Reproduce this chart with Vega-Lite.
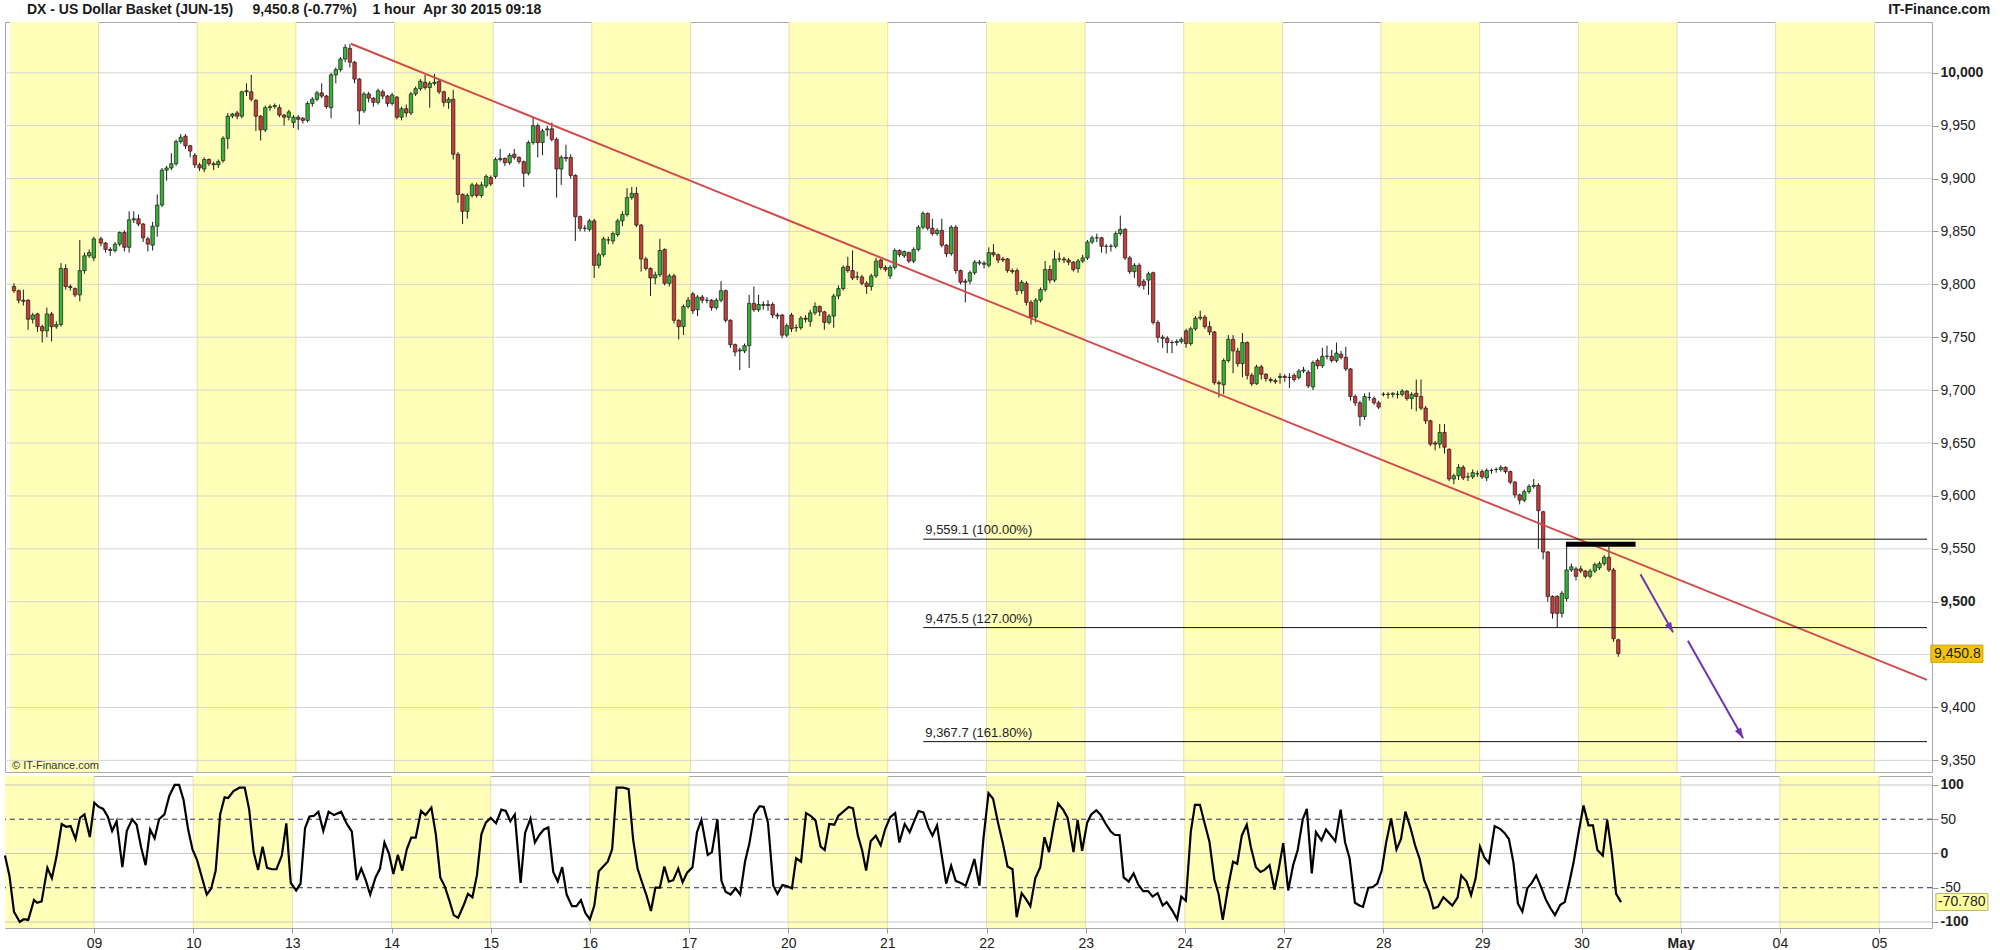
{
"$schema": "https://vega.github.io/schema/vega-lite/v6.json",
"padding": 0,
"background": "white",
"spacing": 2,
"config": {"view": {"stroke": "#a9a9a9", "strokeWidth": 1}, "font": "Liberation Sans", "axis": {"labelOverlap": false, "labelSeparation": 0}},
"datasets": {
"bands": [{"s":-0.8975,"e":0},{"s":1,"e":2},{"s":3,"e":4},{"s":5,"e":6},{"s":7,"e":8},{"s":9,"e":10},{"s":11,"e":12},{"s":13,"e":14},{"s":15,"e":16},{"s":17,"e":18}],
"days": [{"d":0},{"d":1},{"d":2},{"d":3},{"d":4},{"d":5},{"d":6},{"d":7},{"d":8},{"d":9},{"d":10},{"d":11},{"d":12},{"d":13},{"d":14},{"d":15},{"d":16},{"d":17},{"d":18}],
"hgrid": [{"v":9350},{"v":9400},{"v":9450},{"v":9500},{"v":9550},{"v":9600},{"v":9650},{"v":9700},{"v":9750},{"v":9800},{"v":9850},{"v":9900},{"v":9950},{"v":10000}],
"oscgrid": [{"v":-100},{"v":-50},{"v":0},{"v":50},{"v":100}],
"candles": [
{"d":-0.857,"o":9798,"h":9801,"l":9792,"c":9794},{"d":-0.809,"o":9794,"h":9795,"l":9782,"c":9785},{"d":-0.762,"o":9785,"h":9795,"l":9780,"c":9784},{"d":-0.714,"o":9785,"h":9786,"l":9757,"c":9767},{"d":-0.667,"o":9767,"h":9773,"l":9763,"c":9771},{"d":-0.619,"o":9772,"h":9773,"l":9755,"c":9760},{"d":-0.571,"o":9760,"h":9762,"l":9745,"c":9756},{"d":-0.524,"o":9756,"h":9778,"l":9750,"c":9772},{"d":-0.476,"o":9772,"h":9774,"l":9746,"c":9760},{"d":-0.428,"o":9760,"h":9765,"l":9758,"c":9762},{"d":-0.381,"o":9762,"h":9820,"l":9760,"c":9815},{"d":-0.333,"o":9815,"h":9819,"l":9795,"c":9798},{"d":-0.286,"o":9798,"h":9800,"l":9794,"c":9797},{"d":-0.238,"o":9796,"h":9797,"l":9788,"c":9790},{"d":-0.19,"o":9790,"h":9842,"l":9784,"c":9813},{"d":-0.143,"o":9813,"h":9830,"l":9810,"c":9827},{"d":-0.095,"o":9827,"h":9833,"l":9825,"c":9830},{"d":-0.048,"o":9825,"h":9845,"l":9822,"c":9843},
{"d":0.024,"o":9843,"h":9845,"l":9836,"c":9839},{"d":0.071,"o":9839,"h":9840,"l":9830,"c":9833},{"d":0.119,"o":9833,"h":9835,"l":9827,"c":9832},{"d":0.167,"o":9832,"h":9840,"l":9830,"c":9838},{"d":0.214,"o":9838,"h":9850,"l":9836,"c":9849},{"d":0.262,"o":9849,"h":9851,"l":9831,"c":9835},{"d":0.31,"o":9835,"h":9869,"l":9830,"c":9861},{"d":0.357,"o":9861,"h":9869,"l":9858,"c":9862},{"d":0.405,"o":9862,"h":9866,"l":9855,"c":9857},{"d":0.452,"o":9857,"h":9858,"l":9840,"c":9844},{"d":0.5,"o":9843,"h":9845,"l":9831,"c":9838},{"d":0.548,"o":9837,"h":9859,"l":9832,"c":9855},{"d":0.595,"o":9855,"h":9885,"l":9845,"c":9875},{"d":0.643,"o":9875,"h":9910,"l":9873,"c":9908},{"d":0.69,"o":9908,"h":9912,"l":9898,"c":9910},{"d":0.738,"o":9910,"h":9924,"l":9908,"c":9914},{"d":0.786,"o":9914,"h":9937,"l":9912,"c":9935},{"d":0.833,"o":9935,"h":9942,"l":9933,"c":9939},{"d":0.881,"o":9940,"h":9942,"l":9928,"c":9931},{"d":0.929,"o":9931,"h":9932,"l":9920,"c":9926},{"d":0.976,"o":9922,"h":9924,"l":9910,"c":9913},
{"d":1.024,"o":9913,"h":9915,"l":9907,"c":9910},{"d":1.071,"o":9909,"h":9920,"l":9906,"c":9918},{"d":1.119,"o":9918,"h":9919,"l":9912,"c":9914},{"d":1.167,"o":9914,"h":9916,"l":9908,"c":9913},{"d":1.214,"o":9913,"h":9918,"l":9910,"c":9916},{"d":1.262,"o":9917,"h":9940,"l":9915,"c":9938},{"d":1.31,"o":9938,"h":9962,"l":9928,"c":9959},{"d":1.357,"o":9959,"h":9962,"l":9957,"c":9961},{"d":1.405,"o":9962,"h":9964,"l":9956,"c":9959},{"d":1.452,"o":9959,"h":9983,"l":9957,"c":9982},{"d":1.5,"o":9982,"h":9990,"l":9978,"c":9983},{"d":1.548,"o":9982,"h":9998,"l":9973,"c":9975},{"d":1.595,"o":9974,"h":9975,"l":9945,"c":9959},{"d":1.643,"o":9959,"h":9960,"l":9936,"c":9946},{"d":1.69,"o":9946,"h":9969,"l":9944,"c":9967},{"d":1.738,"o":9967,"h":9970,"l":9964,"c":9968},{"d":1.786,"o":9968,"h":9971,"l":9966,"c":9969},{"d":1.833,"o":9967,"h":9970,"l":9958,"c":9960},{"d":1.881,"o":9960,"h":9961,"l":9950,"c":9958},{"d":1.929,"o":9958,"h":9965,"l":9955,"c":9963},{"d":1.976,"o":9953,"h":9960,"l":9948,"c":9958},
{"d":2.024,"o":9958,"h":9960,"l":9946,"c":9956},{"d":2.071,"o":9957,"h":9958,"l":9952,"c":9955},{"d":2.119,"o":9955,"h":9973,"l":9953,"c":9971},{"d":2.167,"o":9971,"h":9977,"l":9968,"c":9975},{"d":2.214,"o":9975,"h":9983,"l":9973,"c":9981},{"d":2.262,"o":9981,"h":9990,"l":9976,"c":9978},{"d":2.31,"o":9978,"h":9979,"l":9966,"c":9968},{"d":2.357,"o":9967,"h":10000,"l":9957,"c":9998},{"d":2.405,"o":9998,"h":10005,"l":9990,"c":10003},{"d":2.452,"o":10003,"h":10015,"l":10001,"c":10013},{"d":2.5,"o":10013,"h":10027,"l":10010,"c":10024},{"d":2.548,"o":10023,"h":10027,"l":10005,"c":10010},{"d":2.595,"o":10010,"h":10011,"l":9990,"c":9994},{"d":2.643,"o":9994,"h":9995,"l":9951,"c":9964},{"d":2.69,"o":9964,"h":9982,"l":9962,"c":9980},{"d":2.738,"o":9980,"h":9982,"l":9972,"c":9976},{"d":2.786,"o":9976,"h":9977,"l":9968,"c":9972},{"d":2.833,"o":9972,"h":9985,"l":9970,"c":9983},{"d":2.881,"o":9982,"h":9984,"l":9975,"c":9978},{"d":2.929,"o":9978,"h":9979,"l":9968,"c":9971},{"d":2.976,"o":9971,"h":9981,"l":9969,"c":9979},
{"d":3.024,"o":9977,"h":9978,"l":9956,"c":9958},{"d":3.071,"o":9958,"h":9968,"l":9955,"c":9966},{"d":3.119,"o":9966,"h":9970,"l":9958,"c":9962},{"d":3.167,"o":9962,"h":9982,"l":9960,"c":9980},{"d":3.214,"o":9980,"h":9987,"l":9978,"c":9985},{"d":3.262,"o":9985,"h":9994,"l":9983,"c":9992},{"d":3.31,"o":9991,"h":9998,"l":9984,"c":9986},{"d":3.357,"o":9986,"h":9992,"l":9967,"c":9990},{"d":3.405,"o":9990,"h":9999,"l":9988,"c":9991},{"d":3.452,"o":9992,"h":9993,"l":9980,"c":9982},{"d":3.5,"o":9982,"h":9983,"l":9968,"c":9972},{"d":3.548,"o":9972,"h":9977,"l":9966,"c":9975},{"d":3.595,"o":9975,"h":9984,"l":9918,"c":9923},{"d":3.643,"o":9923,"h":9925,"l":9877,"c":9885},{"d":3.69,"o":9885,"h":9886,"l":9857,"c":9869},{"d":3.738,"o":9869,"h":9886,"l":9862,"c":9884},{"d":3.786,"o":9884,"h":9896,"l":9882,"c":9894},{"d":3.833,"o":9894,"h":9896,"l":9882,"c":9884},{"d":3.881,"o":9884,"h":9897,"l":9882,"c":9894},{"d":3.929,"o":9893,"h":9904,"l":9891,"c":9902},{"d":3.976,"o":9901,"h":9903,"l":9893,"c":9895},
{"d":4.024,"o":9902,"h":9920,"l":9900,"c":9918},{"d":4.071,"o":9918,"h":9928,"l":9916,"c":9919},{"d":4.119,"o":9919,"h":9920,"l":9912,"c":9915},{"d":4.167,"o":9915,"h":9924,"l":9913,"c":9922},{"d":4.214,"o":9923,"h":9928,"l":9918,"c":9920},{"d":4.262,"o":9920,"h":9921,"l":9914,"c":9916},{"d":4.31,"o":9916,"h":9917,"l":9892,"c":9905},{"d":4.357,"o":9905,"h":9936,"l":9903,"c":9934},{"d":4.405,"o":9934,"h":9958,"l":9932,"c":9950},{"d":4.452,"o":9950,"h":9952,"l":9920,"c":9934},{"d":4.5,"o":9934,"h":9947,"l":9922,"c":9945},{"d":4.548,"o":9946,"h":9950,"l":9940,"c":9947},{"d":4.595,"o":9947,"h":9953,"l":9935,"c":9937},{"d":4.643,"o":9937,"h":9939,"l":9882,"c":9909},{"d":4.69,"o":9909,"h":9922,"l":9894,"c":9920},{"d":4.738,"o":9920,"h":9932,"l":9916,"c":9919},{"d":4.786,"o":9920,"h":9923,"l":9900,"c":9903},{"d":4.833,"o":9903,"h":9904,"l":9841,"c":9864},{"d":4.881,"o":9864,"h":9865,"l":9850,"c":9853},{"d":4.929,"o":9853,"h":9856,"l":9850,"c":9853},{"d":4.976,"o":9852,"h":9862,"l":9850,"c":9860},
{"d":5.024,"o":9860,"h":9862,"l":9806,"c":9818},{"d":5.071,"o":9818,"h":9830,"l":9815,"c":9828},{"d":5.119,"o":9828,"h":9845,"l":9826,"c":9843},{"d":5.167,"o":9842,"h":9845,"l":9838,"c":9842},{"d":5.214,"o":9841,"h":9850,"l":9838,"c":9848},{"d":5.262,"o":9847,"h":9862,"l":9845,"c":9860},{"d":5.31,"o":9860,"h":9869,"l":9855,"c":9866},{"d":5.357,"o":9866,"h":9891,"l":9864,"c":9882},{"d":5.405,"o":9882,"h":9892,"l":9880,"c":9886},{"d":5.452,"o":9886,"h":9892,"l":9854,"c":9856},{"d":5.5,"o":9856,"h":9857,"l":9812,"c":9824},{"d":5.548,"o":9824,"h":9826,"l":9813,"c":9815},{"d":5.595,"o":9815,"h":9816,"l":9789,"c":9806},{"d":5.643,"o":9806,"h":9812,"l":9800,"c":9809},{"d":5.69,"o":9809,"h":9843,"l":9807,"c":9832},{"d":5.738,"o":9833,"h":9834,"l":9799,"c":9801},{"d":5.786,"o":9801,"h":9810,"l":9798,"c":9808},{"d":5.833,"o":9808,"h":9810,"l":9763,"c":9766},{"d":5.881,"o":9766,"h":9767,"l":9748,"c":9760},{"d":5.929,"o":9760,"h":9781,"l":9752,"c":9779},{"d":5.976,"o":9779,"h":9788,"l":9777,"c":9785},
{"d":6.024,"o":9791,"h":9793,"l":9772,"c":9775},{"d":6.071,"o":9776,"h":9790,"l":9770,"c":9788},{"d":6.119,"o":9788,"h":9790,"l":9782,"c":9785},{"d":6.167,"o":9785,"h":9788,"l":9782,"c":9785},{"d":6.214,"o":9785,"h":9786,"l":9775,"c":9778},{"d":6.262,"o":9778,"h":9787,"l":9776,"c":9785},{"d":6.31,"o":9785,"h":9803,"l":9783,"c":9794},{"d":6.357,"o":9794,"h":9795,"l":9764,"c":9766},{"d":6.405,"o":9766,"h":9767,"l":9740,"c":9743},{"d":6.452,"o":9743,"h":9744,"l":9732,"c":9736},{"d":6.5,"o":9737,"h":9740,"l":9719,"c":9738},{"d":6.548,"o":9737,"h":9744,"l":9735,"c":9742},{"d":6.595,"o":9742,"h":9790,"l":9721,"c":9782},{"d":6.643,"o":9782,"h":9798,"l":9774,"c":9776},{"d":6.69,"o":9776,"h":9790,"l":9774,"c":9781},{"d":6.738,"o":9780,"h":9784,"l":9776,"c":9781},{"d":6.786,"o":9781,"h":9785,"l":9775,"c":9780},{"d":6.833,"o":9781,"h":9783,"l":9768,"c":9771},{"d":6.881,"o":9771,"h":9773,"l":9767,"c":9770},{"d":6.929,"o":9771,"h":9772,"l":9749,"c":9752},{"d":6.976,"o":9752,"h":9763,"l":9750,"c":9761},
{"d":7.024,"o":9771,"h":9773,"l":9755,"c":9758},{"d":7.071,"o":9759,"h":9762,"l":9755,"c":9759},{"d":7.119,"o":9759,"h":9770,"l":9757,"c":9768},{"d":7.167,"o":9768,"h":9771,"l":9764,"c":9767},{"d":7.214,"o":9765,"h":9776,"l":9760,"c":9773},{"d":7.262,"o":9773,"h":9783,"l":9771,"c":9779},{"d":7.31,"o":9779,"h":9780,"l":9770,"c":9774},{"d":7.357,"o":9774,"h":9775,"l":9757,"c":9764},{"d":7.405,"o":9764,"h":9772,"l":9762,"c":9770},{"d":7.452,"o":9770,"h":9791,"l":9759,"c":9789},{"d":7.5,"o":9789,"h":9799,"l":9786,"c":9796},{"d":7.548,"o":9796,"h":9818,"l":9794,"c":9816},{"d":7.595,"o":9817,"h":9826,"l":9811,"c":9813},{"d":7.643,"o":9813,"h":9832,"l":9804,"c":9806},{"d":7.69,"o":9807,"h":9812,"l":9804,"c":9807},{"d":7.738,"o":9807,"h":9809,"l":9799,"c":9801},{"d":7.786,"o":9801,"h":9803,"l":9791,"c":9798},{"d":7.833,"o":9798,"h":9810,"l":9794,"c":9808},{"d":7.881,"o":9808,"h":9825,"l":9806,"c":9822},{"d":7.929,"o":9823,"h":9824,"l":9814,"c":9816},{"d":7.976,"o":9816,"h":9818,"l":9812,"c":9814},
{"d":8.024,"o":9808,"h":9818,"l":9805,"c":9816},{"d":8.071,"o":9816,"h":9834,"l":9814,"c":9832},{"d":8.119,"o":9832,"h":9833,"l":9826,"c":9828},{"d":8.167,"o":9827,"h":9832,"l":9825,"c":9831},{"d":8.214,"o":9830,"h":9831,"l":9820,"c":9822},{"d":8.262,"o":9822,"h":9835,"l":9820,"c":9833},{"d":8.31,"o":9833,"h":9856,"l":9831,"c":9854},{"d":8.357,"o":9854,"h":9869,"l":9852,"c":9867},{"d":8.405,"o":9867,"h":9868,"l":9851,"c":9853},{"d":8.452,"o":9853,"h":9862,"l":9846,"c":9848},{"d":8.5,"o":9848,"h":9853,"l":9846,"c":9851},{"d":8.548,"o":9851,"h":9862,"l":9835,"c":9837},{"d":8.595,"o":9837,"h":9838,"l":9826,"c":9829},{"d":8.643,"o":9829,"h":9856,"l":9827,"c":9854},{"d":8.69,"o":9854,"h":9856,"l":9810,"c":9813},{"d":8.738,"o":9813,"h":9814,"l":9800,"c":9802},{"d":8.786,"o":9803,"h":9805,"l":9783,"c":9802},{"d":8.833,"o":9803,"h":9813,"l":9800,"c":9811},{"d":8.881,"o":9811,"h":9823,"l":9809,"c":9821},{"d":8.929,"o":9820,"h":9823,"l":9818,"c":9821},{"d":8.976,"o":9820,"h":9822,"l":9815,"c":9819},
{"d":9.024,"o":9818,"h":9835,"l":9816,"c":9830},{"d":9.071,"o":9830,"h":9838,"l":9826,"c":9828},{"d":9.119,"o":9828,"h":9829,"l":9820,"c":9823},{"d":9.167,"o":9824,"h":9826,"l":9821,"c":9823},{"d":9.214,"o":9824,"h":9825,"l":9811,"c":9813},{"d":9.262,"o":9813,"h":9815,"l":9810,"c":9812},{"d":9.31,"o":9813,"h":9815,"l":9790,"c":9794},{"d":9.357,"o":9794,"h":9804,"l":9791,"c":9802},{"d":9.405,"o":9801,"h":9803,"l":9780,"c":9783},{"d":9.452,"o":9783,"h":9785,"l":9762,"c":9769},{"d":9.5,"o":9769,"h":9787,"l":9764,"c":9785},{"d":9.548,"o":9785,"h":9797,"l":9783,"c":9795},{"d":9.595,"o":9795,"h":9822,"l":9793,"c":9814},{"d":9.643,"o":9814,"h":9818,"l":9801,"c":9804},{"d":9.69,"o":9804,"h":9832,"l":9802,"c":9824},{"d":9.738,"o":9824,"h":9830,"l":9821,"c":9824},{"d":9.786,"o":9824,"h":9826,"l":9820,"c":9823},{"d":9.833,"o":9823,"h":9825,"l":9818,"c":9821},{"d":9.881,"o":9821,"h":9822,"l":9812,"c":9814},{"d":9.929,"o":9815,"h":9824,"l":9811,"c":9822},{"d":9.976,"o":9822,"h":9828,"l":9820,"c":9825},
{"d":10.024,"o":9825,"h":9842,"l":9823,"c":9840},{"d":10.071,"o":9840,"h":9846,"l":9838,"c":9844},{"d":10.119,"o":9844,"h":9848,"l":9840,"c":9844},{"d":10.167,"o":9844,"h":9845,"l":9830,"c":9836},{"d":10.214,"o":9836,"h":9838,"l":9829,"c":9836},{"d":10.262,"o":9836,"h":9838,"l":9831,"c":9836},{"d":10.31,"o":9836,"h":9850,"l":9834,"c":9848},{"d":10.357,"o":9848,"h":9865,"l":9846,"c":9852},{"d":10.405,"o":9852,"h":9853,"l":9823,"c":9825},{"d":10.452,"o":9825,"h":9827,"l":9810,"c":9812},{"d":10.5,"o":9812,"h":9820,"l":9806,"c":9818},{"d":10.548,"o":9818,"h":9820,"l":9797,"c":9799},{"d":10.595,"o":9803,"h":9805,"l":9795,"c":9799},{"d":10.643,"o":9804,"h":9812,"l":9790,"c":9810},{"d":10.69,"o":9811,"h":9812,"l":9762,"c":9764},{"d":10.738,"o":9764,"h":9766,"l":9745,"c":9750},{"d":10.786,"o":9750,"h":9752,"l":9740,"c":9749},{"d":10.833,"o":9749,"h":9751,"l":9735,"c":9745},{"d":10.881,"o":9745,"h":9747,"l":9735,"c":9745},{"d":10.929,"o":9745,"h":9748,"l":9742,"c":9746},{"d":10.976,"o":9746,"h":9750,"l":9744,"c":9748},
{"d":11.024,"o":9756,"h":9758,"l":9740,"c":9744},{"d":11.071,"o":9744,"h":9760,"l":9742,"c":9758},{"d":11.119,"o":9758,"h":9770,"l":9756,"c":9768},{"d":11.167,"o":9768,"h":9775,"l":9766,"c":9769},{"d":11.214,"o":9769,"h":9771,"l":9758,"c":9760},{"d":11.262,"o":9760,"h":9765,"l":9752,"c":9755},{"d":11.31,"o":9755,"h":9756,"l":9705,"c":9707},{"d":11.357,"o":9707,"h":9709,"l":9693,"c":9706},{"d":11.405,"o":9705,"h":9730,"l":9696,"c":9728},{"d":11.452,"o":9728,"h":9752,"l":9726,"c":9748},{"d":11.5,"o":9748,"h":9752,"l":9716,"c":9737},{"d":11.548,"o":9737,"h":9740,"l":9722,"c":9725},{"d":11.595,"o":9725,"h":9754,"l":9712,"c":9745},{"d":11.643,"o":9745,"h":9746,"l":9710,"c":9714},{"d":11.69,"o":9714,"h":9716,"l":9704,"c":9706},{"d":11.738,"o":9706,"h":9724,"l":9705,"c":9722},{"d":11.786,"o":9722,"h":9724,"l":9710,"c":9715},{"d":11.833,"o":9715,"h":9716,"l":9708,"c":9711},{"d":11.881,"o":9710,"h":9712,"l":9707,"c":9709},{"d":11.929,"o":9709,"h":9711,"l":9706,"c":9708},{"d":11.976,"o":9712,"h":9716,"l":9706,"c":9713},
{"d":12.024,"o":9713,"h":9715,"l":9708,"c":9712},{"d":12.071,"o":9712,"h":9716,"l":9702,"c":9712},{"d":12.119,"o":9714,"h":9716,"l":9708,"c":9710},{"d":12.167,"o":9712,"h":9720,"l":9710,"c":9718},{"d":12.214,"o":9718,"h":9722,"l":9716,"c":9719},{"d":12.262,"o":9717,"h":9719,"l":9702,"c":9704},{"d":12.31,"o":9703,"h":9728,"l":9700,"c":9726},{"d":12.357,"o":9728,"h":9730,"l":9720,"c":9723},{"d":12.405,"o":9723,"h":9740,"l":9721,"c":9732},{"d":12.452,"o":9732,"h":9742,"l":9729,"c":9732},{"d":12.5,"o":9732,"h":9738,"l":9726,"c":9728},{"d":12.548,"o":9728,"h":9745,"l":9726,"c":9735},{"d":12.595,"o":9734,"h":9737,"l":9729,"c":9731},{"d":12.643,"o":9731,"h":9741,"l":9718,"c":9720},{"d":12.69,"o":9720,"h":9721,"l":9690,"c":9694},{"d":12.738,"o":9694,"h":9696,"l":9685,"c":9688},{"d":12.786,"o":9688,"h":9690,"l":9666,"c":9675},{"d":12.833,"o":9675,"h":9697,"l":9672,"c":9694},{"d":12.881,"o":9693,"h":9698,"l":9690,"c":9693},{"d":12.929,"o":9692,"h":9694,"l":9686,"c":9688},{"d":12.976,"o":9688,"h":9690,"l":9682,"c":9684},
{"d":13.024,"o":9696,"h":9698,"l":9694,"c":9696},{"d":13.071,"o":9696,"h":9698,"l":9692,"c":9696},{"d":13.119,"o":9696,"h":9698,"l":9693,"c":9697},{"d":13.167,"o":9696,"h":9699,"l":9692,"c":9696},{"d":13.214,"o":9696,"h":9701,"l":9694,"c":9699},{"d":13.262,"o":9699,"h":9700,"l":9690,"c":9692},{"d":13.31,"o":9692,"h":9698,"l":9682,"c":9696},{"d":13.357,"o":9697,"h":9710,"l":9680,"c":9694},{"d":13.405,"o":9694,"h":9710,"l":9681,"c":9683},{"d":13.452,"o":9683,"h":9685,"l":9668,"c":9671},{"d":13.5,"o":9671,"h":9672,"l":9647,"c":9649},{"d":13.548,"o":9650,"h":9652,"l":9643,"c":9649},{"d":13.595,"o":9649,"h":9668,"l":9645,"c":9660},{"d":13.643,"o":9660,"h":9668,"l":9640,"c":9646},{"d":13.69,"o":9644,"h":9645,"l":9614,"c":9616},{"d":13.738,"o":9616,"h":9621,"l":9611,"c":9619},{"d":13.786,"o":9619,"h":9630,"l":9615,"c":9627},{"d":13.833,"o":9627,"h":9629,"l":9615,"c":9617},{"d":13.881,"o":9618,"h":9622,"l":9614,"c":9618},{"d":13.929,"o":9618,"h":9625,"l":9616,"c":9622},{"d":13.976,"o":9621,"h":9624,"l":9618,"c":9621},
{"d":14.024,"o":9623,"h":9625,"l":9616,"c":9618},{"d":14.071,"o":9617,"h":9626,"l":9614,"c":9624},{"d":14.119,"o":9624,"h":9626,"l":9621,"c":9624},{"d":14.167,"o":9625,"h":9627,"l":9622,"c":9625},{"d":14.214,"o":9625,"h":9629,"l":9623,"c":9627},{"d":14.262,"o":9627,"h":9628,"l":9621,"c":9623},{"d":14.31,"o":9623,"h":9624,"l":9611,"c":9613},{"d":14.357,"o":9613,"h":9614,"l":9598,"c":9601},{"d":14.405,"o":9601,"h":9602,"l":9592,"c":9596},{"d":14.452,"o":9596,"h":9606,"l":9594,"c":9604},{"d":14.5,"o":9604,"h":9611,"l":9602,"c":9609},{"d":14.548,"o":9609,"h":9616,"l":9607,"c":9610},{"d":14.595,"o":9610,"h":9612,"l":9550,"c":9586},{"d":14.643,"o":9585,"h":9586,"l":9540,"c":9547},{"d":14.69,"o":9547,"h":9548,"l":9500,"c":9505},{"d":14.738,"o":9505,"h":9506,"l":9484,"c":9489},{"d":14.786,"o":9505,"h":9506,"l":9476,"c":9489},{"d":14.833,"o":9489,"h":9510,"l":9485,"c":9508},{"d":14.881,"o":9503,"h":9556,"l":9500,"c":9530},{"d":14.929,"o":9530,"h":9536,"l":9528,"c":9533},{"d":14.976,"o":9531,"h":9533,"l":9520,"c":9524},
{"d":15.024,"o":9531,"h":9534,"l":9527,"c":9529},{"d":15.071,"o":9529,"h":9530,"l":9522,"c":9524},{"d":15.119,"o":9524,"h":9531,"l":9522,"c":9529},{"d":15.167,"o":9529,"h":9537,"l":9527,"c":9535},{"d":15.214,"o":9532,"h":9538,"l":9530,"c":9536},{"d":15.262,"o":9536,"h":9544,"l":9534,"c":9542},{"d":15.31,"o":9542,"h":9552,"l":9528,"c":9530},{"d":15.357,"o":9530,"h":9532,"l":9462,"c":9465},{"d":15.405,"o":9464,"h":9465,"l":9448,"c":9451}
],
"osc": [
{"d":-0.898,"k":-3},{"d":-0.853,"k":-32},{"d":-0.807,"k":-85},{"d":-0.749,"k":-100},{"d":-0.708,"k":-96},{"d":-0.663,"k":-97},{"d":-0.605,"k":-68},{"d":-0.573,"k":-72},{"d":-0.528,"k":-70},{"d":-0.47,"k":-21},{"d":-0.425,"k":-36},{"d":-0.38,"k":-6},{"d":-0.326,"k":43},{"d":-0.281,"k":39},{"d":-0.236,"k":40},{"d":-0.186,"k":21},{"d":-0.141,"k":52},{"d":-0.096,"k":57},{"d":-0.042,"k":24},{"d":0.003,"k":74},{"d":0.048,"k":68},{"d":0.093,"k":65},{"d":0.138,"k":54},{"d":0.183,"k":33},{"d":0.228,"k":47},{"d":0.286,"k":-20},{"d":0.331,"k":33},{"d":0.385,"k":50},{"d":0.43,"k":42},{"d":0.475,"k":9},{"d":0.52,"k":-17},{"d":0.566,"k":35},{"d":0.611,"k":22},{"d":0.656,"k":50},{"d":0.71,"k":57},{"d":0.759,"k":84},{"d":0.813,"k":100},{"d":0.858,"k":100},{"d":0.903,"k":78},{"d":0.948,"k":36},{"d":0.993,"k":6},{"d":1.038,"k":-9},{"d":1.092,"k":-37},{"d":1.137,"k":-60},{"d":1.182,"k":-51},{"d":1.227,"k":-25},{"d":1.272,"k":57},{"d":1.317,"k":82},{"d":1.353,"k":81},{"d":1.407,"k":91},{"d":1.466,"k":96},{"d":1.52,"k":96},{"d":1.565,"k":64},{"d":1.61,"k":2},{"d":1.655,"k":-24},{"d":1.7,"k":10},{"d":1.745,"k":-21},{"d":1.794,"k":-23},{"d":1.84,"k":-23},{"d":1.894,"k":-3},{"d":1.939,"k":44},{"d":1.984,"k":-43},{"d":2.038,"k":-54},{"d":2.083,"k":-44},{"d":2.128,"k":37},{"d":2.173,"k":54},{"d":2.218,"k":55},{"d":2.263,"k":61},{"d":2.312,"k":33},{"d":2.366,"k":61},{"d":2.42,"k":56},{"d":2.492,"k":61},{"d":2.546,"k":44},{"d":2.6,"k":32},{"d":2.65,"k":-39},{"d":2.695,"k":-22},{"d":2.74,"k":-39},{"d":2.785,"k":-60},{"d":2.839,"k":-35},{"d":2.884,"k":-22},{"d":2.929,"k":16},{"d":2.974,"k":0},{"d":3.019,"k":-30},{"d":3.064,"k":-2},{"d":3.109,"k":-25},{"d":3.154,"k":6},{"d":3.199,"k":23},{"d":3.244,"k":23},{"d":3.298,"k":62},{"d":3.343,"k":56},{"d":3.402,"k":67},{"d":3.447,"k":28},{"d":3.492,"k":-35},{"d":3.537,"k":-48},{"d":3.582,"k":-68},{"d":3.627,"k":-90},{"d":3.672,"k":-94},{"d":3.726,"k":-76},{"d":3.771,"k":-59},{"d":3.816,"k":-64},{"d":3.861,"k":-32},{"d":3.906,"k":28},{"d":3.951,"k":45},{"d":4.0,"k":52},{"d":4.054,"k":44},{"d":4.108,"k":64},{"d":4.153,"k":62},{"d":4.198,"k":47},{"d":4.243,"k":57},{"d":4.302,"k":-43},{"d":4.347,"k":30},{"d":4.401,"k":51},{"d":4.446,"k":16},{"d":4.491,"k":27},{"d":4.536,"k":35},{"d":4.581,"k":38},{"d":4.631,"k":-27},{"d":4.676,"k":-41},{"d":4.721,"k":-20},{"d":4.766,"k":-60},{"d":4.82,"k":-77},{"d":4.865,"k":-77},{"d":4.91,"k":-68},{"d":4.955,"k":-87},{"d":5.0,"k":-96},{"d":5.045,"k":-76},{"d":5.09,"k":-26},{"d":5.135,"k":-19},{"d":5.18,"k":-12},{"d":5.225,"k":6},{"d":5.27,"k":96},{"d":5.337,"k":96},{"d":5.391,"k":94},{"d":5.436,"k":21},{"d":5.481,"k":-22},{"d":5.526,"k":-42},{"d":5.571,"k":-61},{"d":5.616,"k":-84},{"d":5.661,"k":-50},{"d":5.706,"k":-50},{"d":5.751,"k":-19},{"d":5.796,"k":-41},{"d":5.841,"k":-39},{"d":5.891,"k":-22},{"d":5.936,"k":-42},{"d":5.981,"k":-28},{"d":6.035,"k":-20},{"d":6.08,"k":31},{"d":6.125,"k":49},{"d":6.189,"k":-2},{"d":6.231,"k":2},{"d":6.286,"k":50},{"d":6.327,"k":-40},{"d":6.369,"k":-56},{"d":6.419,"k":-60},{"d":6.47,"k":-51},{"d":6.516,"k":-60},{"d":6.566,"k":-11},{"d":6.608,"k":14},{"d":6.658,"k":57},{"d":6.712,"k":69},{"d":6.754,"k":68},{"d":6.796,"k":45},{"d":6.85,"k":-47},{"d":6.892,"k":-59},{"d":6.942,"k":-46},{"d":6.992,"k":-48},{"d":7.038,"k":-51},{"d":7.08,"k":-7},{"d":7.13,"k":-12},{"d":7.18,"k":59},{"d":7.226,"k":55},{"d":7.276,"k":48},{"d":7.327,"k":10},{"d":7.368,"k":5},{"d":7.414,"k":43},{"d":7.465,"k":42},{"d":7.506,"k":55},{"d":7.556,"k":61},{"d":7.611,"k":68},{"d":7.653,"k":66},{"d":7.703,"k":26},{"d":7.745,"k":5},{"d":7.786,"k":-25},{"d":7.832,"k":18},{"d":7.883,"k":26},{"d":7.933,"k":12},{"d":7.979,"k":36},{"d":8.029,"k":53},{"d":8.079,"k":59},{"d":8.121,"k":16},{"d":8.175,"k":43},{"d":8.225,"k":31},{"d":8.267,"k":46},{"d":8.313,"k":62},{"d":8.363,"k":60},{"d":8.414,"k":38},{"d":8.455,"k":26},{"d":8.501,"k":41},{"d":8.552,"k":-6},{"d":8.593,"k":-44},{"d":8.643,"k":-18},{"d":8.689,"k":-40},{"d":8.74,"k":-43},{"d":8.79,"k":-47},{"d":8.836,"k":-28},{"d":8.878,"k":-8},{"d":8.928,"k":-47},{"d":8.97,"k":23},{"d":9.02,"k":88},{"d":9.066,"k":80},{"d":9.116,"k":45},{"d":9.166,"k":14},{"d":9.212,"k":-19},{"d":9.262,"k":-23},{"d":9.304,"k":-93},{"d":9.354,"k":-58},{"d":9.4,"k":-67},{"d":9.442,"k":-77},{"d":9.492,"k":-36},{"d":9.542,"k":-20},{"d":9.584,"k":24},{"d":9.63,"k":2},{"d":9.68,"k":43},{"d":9.722,"k":73},{"d":9.772,"k":64},{"d":9.818,"k":52},{"d":9.877,"k":2},{"d":9.919,"k":49},{"d":9.964,"k":4},{"d":10.015,"k":45},{"d":10.056,"k":57},{"d":10.107,"k":63},{"d":10.153,"k":56},{"d":10.203,"k":43},{"d":10.253,"k":32},{"d":10.295,"k":27},{"d":10.341,"k":27},{"d":10.383,"k":-35},{"d":10.433,"k":-41},{"d":10.483,"k":-29},{"d":10.529,"k":-45},{"d":10.579,"k":-55},{"d":10.629,"k":-55},{"d":10.675,"k":-63},{"d":10.725,"k":-58},{"d":10.776,"k":-76},{"d":10.817,"k":-71},{"d":10.872,"k":-83},{"d":10.922,"k":-96},{"d":10.964,"k":-63},{"d":11.01,"k":-69},{"d":11.06,"k":32},{"d":11.102,"k":71},{"d":11.152,"k":71},{"d":11.198,"k":45},{"d":11.248,"k":17},{"d":11.298,"k":-38},{"d":11.34,"k":-59},{"d":11.382,"k":-97},{"d":11.436,"k":-49},{"d":11.486,"k":-12},{"d":11.528,"k":-15},{"d":11.574,"k":26},{"d":11.624,"k":42},{"d":11.666,"k":9},{"d":11.716,"k":-20},{"d":11.762,"k":-27},{"d":11.804,"k":-24},{"d":11.854,"k":-17},{"d":11.904,"k":-53},{"d":11.946,"k":-23},{"d":11.992,"k":15},{"d":12.042,"k":-54},{"d":12.092,"k":-17},{"d":12.138,"k":5},{"d":12.189,"k":50},{"d":12.23,"k":65},{"d":12.28,"k":-29},{"d":12.322,"k":31},{"d":12.378,"k":19},{"d":12.423,"k":35},{"d":12.468,"k":27},{"d":12.517,"k":18},{"d":12.571,"k":64},{"d":12.616,"k":16},{"d":12.661,"k":-7},{"d":12.715,"k":-72},{"d":12.76,"k":-76},{"d":12.796,"k":-78},{"d":12.85,"k":-50},{"d":12.895,"k":-49},{"d":12.94,"k":-44},{"d":12.985,"k":-25},{"d":13.03,"k":16},{"d":13.08,"k":51},{"d":13.134,"k":6},{"d":13.179,"k":21},{"d":13.224,"k":61},{"d":13.278,"k":36},{"d":13.323,"k":11},{"d":13.368,"k":-8},{"d":13.413,"k":-39},{"d":13.462,"k":-56},{"d":13.507,"k":-80},{"d":13.552,"k":-78},{"d":13.607,"k":-64},{"d":13.652,"k":-70},{"d":13.697,"k":-76},{"d":13.751,"k":-64},{"d":13.787,"k":-32},{"d":13.841,"k":-41},{"d":13.886,"k":-61},{"d":13.931,"k":-37},{"d":13.976,"k":10},{"d":14.021,"k":-6},{"d":14.066,"k":-14},{"d":14.124,"k":40},{"d":14.178,"k":36},{"d":14.223,"k":30},{"d":14.268,"k":21},{"d":14.313,"k":-13},{"d":14.358,"k":-73},{"d":14.403,"k":-85},{"d":14.453,"k":-51},{"d":14.498,"k":-43},{"d":14.543,"k":-32},{"d":14.597,"k":-51},{"d":14.642,"k":-68},{"d":14.687,"k":-80},{"d":14.732,"k":-90},{"d":14.786,"k":-75},{"d":14.831,"k":-71},{"d":14.876,"k":-43},{"d":14.921,"k":-12},{"d":14.966,"k":27},{"d":15.02,"k":70},{"d":15.07,"k":41},{"d":15.115,"k":41},{"d":15.16,"k":5},{"d":15.214,"k":-3},{"d":15.259,"k":49},{"d":15.304,"k":2},{"d":15.349,"k":-59},{"d":15.398,"k":-71}
]
},
"vconcat": [
{
"width": 1927, "height": 19,
"view": {"stroke": null},
"layer": [
{"data": {"values": [{"d": -0.676, "t": "DX - US Dollar Basket (JUN-15)\u00a0\u00a0\u00a0\u00a0\u00a09,450.8 (-0.77%)\u00a0\u00a0\u00a0\u00a01 hour\u00a0\u00a0Apr 30 2015 09:18"}]},
 "mark": {"type": "text", "align": "left", "baseline": "middle", "fontSize": 14, "fontWeight": "bold", "color": "#1a1a1a"},
 "encoding": {"x": {"field": "d", "type": "quantitative", "scale": {"domain": [-0.8975, 18.534], "nice": false, "zero": false}, "axis": null}, "text": {"field": "t"}}},
{"data": {"values": [{"d": 19.12, "t": "IT-Finance.com"}]},
 "mark": {"type": "text", "align": "right", "baseline": "middle", "fontSize": 14, "fontWeight": "bold", "color": "#1a1a1a"},
 "encoding": {"x": {"field": "d", "type": "quantitative", "scale": {"domain": [-0.8975, 18.534], "nice": false, "zero": false}, "axis": null}, "text": {"field": "t"}}}
]
},
{
"width": 1927, "height": 750,
"layer": [
{"data": {"name": "bands"}, "mark": {"type": "rect", "color": "#ffffb9"},
 "encoding": {"x": {"field": "s", "type": "quantitative", "scale": {"domain": [-0.8975, 18.534], "nice": false, "zero": false}, "axis": null}, "x2": {"field": "e"}}},
{"data": {"name": "days"}, "mark": {"type": "rule", "color": "#e2e2b0", "strokeWidth": 1},
 "encoding": {"x": {"field": "d", "type": "quantitative", "scale": {"domain": [-0.8975, 18.534], "nice": false, "zero": false}, "axis": null}}},
{"data": {"name": "hgrid"}, "mark": {"type": "rule", "color": "#d6d6d0", "strokeWidth": 1},
 "encoding": {"y": {"field": "v", "type": "quantitative", "scale": {"domain": [9339, 10048], "nice": false, "zero": false},
        "axis": {"orient": "right", "title": null, "values": [9350, 9400, 9500, 9550, 9600, 9650, 9700, 9750, 9800, 9850, 9900, 9950, 10000], "labelExpr": "format(datum.value, ',')", "grid": false, "domain": false, "ticks": true, "labels": true, "labelOverlap": false, "tickSize": 6, "tickColor": "#999999", "labelPadding": 2, "labelFontSize": 14, "labelColor": "#222222", "labelFont": "Liberation Sans",
                 "labelFontWeight": {"condition": {"test": "datum.value == 10000 || datum.value == 9500", "value": "bold"}, "value": "normal"}}}}},
{"data": {"name": "candles"}, "mark": {"type": "rule", "color": "#1a1a1a", "strokeWidth": 1},
 "encoding": {
  "x": {"field": "d", "type": "quantitative", "scale": {"domain": [-0.8975, 18.534], "nice": false, "zero": false}, "axis": null},
  "y": {"field": "l", "type": "quantitative", "scale": {"domain": [9339, 10048], "nice": false, "zero": false}},
  "y2": {"field": "h"}}},
{"data": {"name": "candles"}, "mark": {"type": "bar", "orient": "vertical", "size": 3.4, "stroke": "#1a1a1a", "strokeWidth": 0.7},
 "encoding": {
  "x": {"field": "d", "type": "quantitative", "scale": {"domain": [-0.8975, 18.534], "nice": false, "zero": false}, "axis": null},
  "y": {"field": "o", "type": "quantitative", "scale": {"domain": [9339, 10048], "nice": false, "zero": false}},
  "y2": {"field": "c"},
  "color": {"condition": {"test": "datum.c >= datum.o", "value": "#35b335"}, "value": "#c93a3a"}}},
{"data": {"values": [{"x1": 2.558, "y1": 10027.4, "x2": 18.534, "y2": 9426.1}]}, "mark": {"type": "rule", "color": "#d24a4a", "strokeWidth": 2},
 "encoding": {
  "x": {"field": "x1", "type": "quantitative", "scale": {"domain": [-0.8975, 18.534], "nice": false, "zero": false}, "axis": null}, "x2": {"field": "x2"},
  "y": {"field": "y1", "type": "quantitative", "scale": {"domain": [9339, 10048], "nice": false, "zero": false}}, "y2": {"field": "y2"}}},
{"data": {"values": [{"x1": 8.36, "x2": 18.534, "v": 9559.1, "t": "9,559.1 (100.00%)"}, {"x1": 8.36, "x2": 18.534, "v": 9475.5, "t": "9,475.5 (127.00%)"}, {"x1": 8.36, "x2": 18.534, "v": 9367.7, "t": "9,367.7 (161.80%)"}]},
 "layer": [
  {"mark": {"type": "rule", "color": "#111111", "strokeWidth": 1},
   "encoding": {"x": {"field": "x1", "type": "quantitative", "scale": {"domain": [-0.8975, 18.534], "nice": false, "zero": false}, "axis": null}, "x2": {"field": "x2"},
                "y": {"field": "v", "type": "quantitative", "scale": {"domain": [9339, 10048], "nice": false, "zero": false}}}},
  {"mark": {"type": "text", "align": "left", "baseline": "bottom", "dx": 2, "dy": -2, "fontSize": 13, "color": "#222222"},
   "encoding": {"x": {"field": "x1", "type": "quantitative", "scale": {"domain": [-0.8975, 18.534], "nice": false, "zero": false}, "axis": null},
                "y": {"field": "v", "type": "quantitative", "scale": {"domain": [9339, 10048], "nice": false, "zero": false}}, "text": {"field": "t"}}}
 ]},
{"data": {"values": [{"x1": 14.874, "x2": 15.58, "v": 9554.3}]}, "mark": {"type": "rule", "color": "#000000", "strokeWidth": 5},
 "encoding": {"x": {"field": "x1", "type": "quantitative", "scale": {"domain": [-0.8975, 18.534], "nice": false, "zero": false}, "axis": null}, "x2": {"field": "x2"},
              "y": {"field": "v", "type": "quantitative", "scale": {"domain": [9339, 10048], "nice": false, "zero": false}}}},
{"data": {"values": [{"x1": 15.63, "y1": 9526, "x2": 15.96, "y2": 9471}, {"x1": 16.11, "y1": 9463, "x2": 16.67, "y2": 9371}]},
 "layer": [
  {"mark": {"type": "rule", "color": "#7232b4", "strokeWidth": 2},
   "encoding": {"x": {"field": "x1", "type": "quantitative", "scale": {"domain": [-0.8975, 18.534], "nice": false, "zero": false}, "axis": null}, "x2": {"field": "x2"},
                "y": {"field": "y1", "type": "quantitative", "scale": {"domain": [9339, 10048], "nice": false, "zero": false}}, "y2": {"field": "y2"}}},
  {"mark": {"type": "point", "shape": "M0,0L-0.6,-1.7L0.6,-1.7Z", "filled": true, "color": "#7232b4", "opacity": 1, "size": 144, "angle": 330},
   "encoding": {"x": {"field": "x2", "type": "quantitative", "scale": {"domain": [-0.8975, 18.534], "nice": false, "zero": false}, "axis": null},
                "y": {"field": "y2", "type": "quantitative", "scale": {"domain": [9339, 10048], "nice": false, "zero": false}}}}
 ]},
{"data": {"values": [{"p": 18.534, "v": 9450.8, "t": "9,450.8"}]},
 "layer": [
  {"mark": {"type": "point", "shape": "M0.15,-0.33H2.15V0.33H0.15Z", "filled": true, "fill": "#f4c20d", "stroke": "#c9a000", "strokeWidth": 1, "opacity": 1, "size": 2704},
   "encoding": {"x": {"field": "p", "type": "quantitative", "scale": {"domain": [-0.8975, 18.534], "nice": false, "zero": false}, "axis": null},
                "y": {"field": "v", "type": "quantitative", "scale": {"domain": [9339, 10048], "nice": false, "zero": false}}}},
  {"mark": {"type": "text", "align": "left", "baseline": "middle", "dx": 7, "fontSize": 14, "color": "#222222"},
   "encoding": {"x": {"field": "p", "type": "quantitative", "scale": {"domain": [-0.8975, 18.534], "nice": false, "zero": false}, "axis": null},
                "y": {"field": "v", "type": "quantitative", "scale": {"domain": [9339, 10048], "nice": false, "zero": false}}, "text": {"field": "t"}}}
 ]},
{"data": {"values": [{"p": -0.877, "v": 9339, "t": "© IT-Finance.com"}]},
 "mark": {"type": "text", "align": "left", "baseline": "bottom", "dy": -1, "fontSize": 11, "color": "#333333"},
 "encoding": {"x": {"field": "p", "type": "quantitative", "scale": {"domain": [-0.8975, 18.534], "nice": false, "zero": false}, "axis": null},
              "y": {"field": "v", "type": "quantitative", "scale": {"domain": [9339, 10048], "nice": false, "zero": false}}, "text": {"field": "t"}}}
]
},
{
"width": 1927, "height": 152,
"layer": [
{"data": {"name": "bands"}, "mark": {"type": "rect", "color": "#ffffb9"},
 "encoding": {"x": {"field": "s", "type": "quantitative", "scale": {"domain": [-0.8975, 18.534], "nice": false, "zero": false},
        "axis": {"title": null, "values": [0,1,2,3,4,5,6,7,8,9,10,11,12,13,14,15,16,17,18], "labelExpr": "['09','10','13','14','15','16','17','20','21','22','23','24','27','28','29','30','May','04','05'][datum.value]", "grid": false, "domain": false, "ticks": true, "labels": true, "tickSize": 5, "tickColor": "#999999", "labelPadding": 3, "labelFontSize": 14, "labelColor": "#222222", "labelFont": "Liberation Sans", "labelFlush": false, "labelOverlap": false, "labelBound": false,
                 "labelFontWeight": {"condition": {"test": "datum.value == 16", "value": "bold"}, "value": "normal"}}},
  "x2": {"field": "e"}}},
{"data": {"name": "days"}, "mark": {"type": "rule", "color": "#e2e2b0", "strokeWidth": 1},
 "encoding": {"x": {"field": "d", "type": "quantitative", "scale": {"domain": [-0.8975, 18.534], "nice": false, "zero": false}}}},
{"data": {"name": "oscgrid"}, "mark": {"type": "rule", "color": "#c8c8c0", "strokeWidth": 1},
 "transform": [{"filter": "datum.v != 50 && datum.v != -50"}],
 "encoding": {"y": {"field": "v", "type": "quantitative", "scale": {"domain": [-108.8, 113.1], "nice": false, "zero": false},
        "axis": {"orient": "right", "title": null, "values": [-100, -50, 0, 50, 100], "labelExpr": "'' + datum.value", "grid": false, "domain": false, "ticks": true, "labels": true, "labelOverlap": false, "labelSeparation": 0, "tickCount": 5, "tickSize": 6, "tickColor": "#999999", "labelPadding": 2, "labelFontSize": 14, "labelColor": "#222222", "labelFont": "Liberation Sans",
                 "labelFontWeight": {"condition": {"test": "abs(datum.value) != 50", "value": "bold"}, "value": "normal"}}}}},
{"data": {"name": "oscgrid"}, "mark": {"type": "rule", "color": "#2a2a66", "strokeWidth": 1, "strokeDash": [5, 4]},
 "transform": [{"filter": "datum.v == 50 || datum.v == -50"}],
 "encoding": {"y": {"field": "v", "type": "quantitative", "scale": {"domain": [-108.8, 113.1], "nice": false, "zero": false}}}},
{"data": {"name": "osc"}, "mark": {"type": "line", "color": "#000000", "strokeWidth": 2.2},
 "encoding": {
  "x": {"field": "d", "type": "quantitative", "scale": {"domain": [-0.8975, 18.534], "nice": false, "zero": false}},
  "y": {"field": "k", "type": "quantitative", "scale": {"domain": [-108.8, 113.1], "nice": false, "zero": false}}}},
{"data": {"values": [{"p": 18.534, "v": -70.78, "t": "-70.780"}]},
 "layer": [
  {"mark": {"type": "point", "shape": "M0.15,-0.33H2.15V0.33H0.15Z", "filled": true, "fill": "#ffff9e", "stroke": "#b5b56e", "strokeWidth": 1, "opacity": 1, "size": 2704},
   "encoding": {"x": {"field": "p", "type": "quantitative", "scale": {"domain": [-0.8975, 18.534], "nice": false, "zero": false}},
                "y": {"field": "v", "type": "quantitative", "scale": {"domain": [-108.8, 113.1], "nice": false, "zero": false}}}},
  {"mark": {"type": "text", "align": "left", "baseline": "middle", "dx": 6, "fontSize": 14, "color": "#222222"},
   "encoding": {"x": {"field": "p", "type": "quantitative", "scale": {"domain": [-0.8975, 18.534], "nice": false, "zero": false}},
                "y": {"field": "v", "type": "quantitative", "scale": {"domain": [-108.8, 113.1], "nice": false, "zero": false}}, "text": {"field": "t"}}}
 ]}
]
}
]
}
